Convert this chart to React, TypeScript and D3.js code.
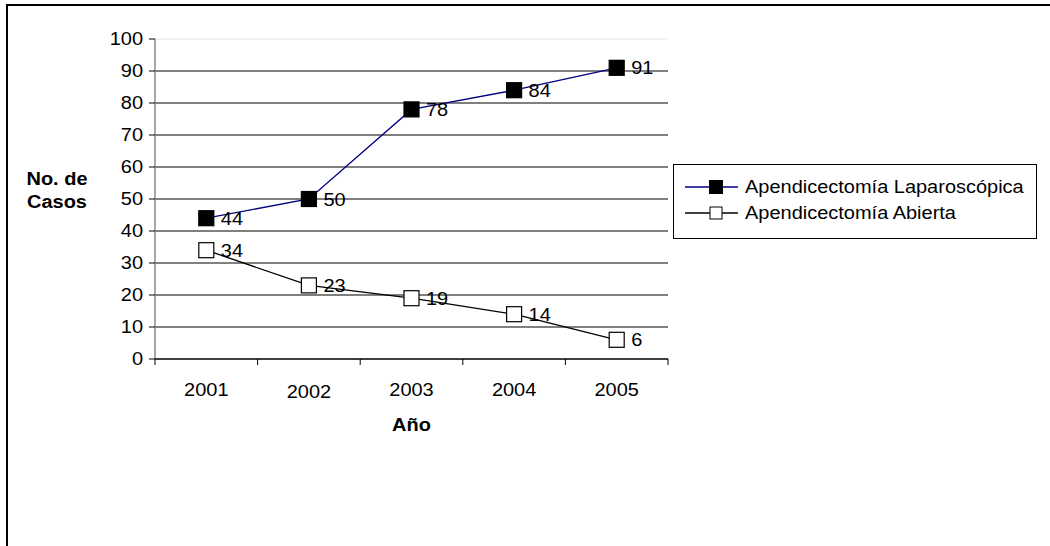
import React from "react";
import * as d3 from "d3";

const years = ["2001", "2002", "2003", "2004", "2005"];
const laparoscopica = [44, 50, 78, 84, 91];
const abierta = [34, 23, 19, 14, 6];
const yTicks = [0, 10, 20, 30, 40, 50, 60, 70, 80, 90, 100];
const seriesNames = ["Apendicectomía Laparoscópica", "Apendicectomía Abierta"];

const FONT = "'Liberation Sans', Arial, sans-serif";
const FS = 18.5;
const SX = 1.08;

function T(props: { x: number; y: number; anchor?: string; bold?: boolean; dy?: string; children: React.ReactNode }) {
  const { x, y, anchor = "start", bold = false, dy, children } = props;
  return (
    <text transform={`translate(${x},${y}) scale(${SX},1)`} textAnchor={anchor as any}
      fontSize={FS} fontWeight={bold ? "bold" : "normal"} dy={dy} fill="#000">{children}</text>
  );
}

export default function App() {
  const W = 1050, H = 546;
  const left = 155, right = 668, top = 39, bottom = 359;
  const x = d3.scaleBand().domain(years).range([left, right]).padding(0);
  const y = d3.scaleLinear().domain([0, 100]).range([bottom, top]);
  const cx = (yr: string) => (x(yr) as number) + x.bandwidth() / 2;
  const line = d3.line<number>().x((_, i) => cx(years[i])).y((d) => y(d));
  const ms = 15;

  const series = [
    { name: seriesNames[0], data: laparoscopica, stroke: "#000080", fill: "#000" },
    { name: seriesNames[1], data: abierta, stroke: "#000", fill: "#fff" },
  ];

  const boundaries = d3.range(years.length + 1).map((i) => left + i * x.bandwidth());

  return (
    <svg width={W} height={H} style={{ position: "absolute", left: 0, top: 0, fontFamily: FONT }}>
      <rect x={0} y={0} width={W} height={H} fill="#fff" />
      <rect x={7} y={5} width={W + 20} height={H + 20} fill="none" stroke="#000" strokeWidth={2} />
      {yTicks.map((t) => (
        <line key={"g" + t} x1={left} x2={right} y1={y(t)} y2={y(t)}
          stroke={t === 100 ? "#e4e4e4" : "#000"} strokeWidth={1} />
      ))}
      <line x1={left} x2={left} y1={top} y2={bottom} stroke="#888" strokeWidth={1.5} />
      {yTicks.map((t) => (
        <g key={"yt" + t}>
          <line x1={left - 6} x2={left} y1={y(t)} y2={y(t)} stroke="#000" />
          <T x={left - 12} y={y(t)} dy="0.35em" anchor="end">{t}</T>
        </g>
      ))}
      <line x1={left} x2={right} y1={bottom} y2={bottom} stroke="#000" strokeWidth={1} />
      {boundaries.map((b, i) => (
        <line key={"xb" + i} x1={b} x2={b} y1={bottom} y2={bottom + 6} stroke="#000" />
      ))}
      {years.map((yr, i) => (
        <T key={"xl" + yr} x={cx(yr)} y={396 + (i === 1 ? 2 : 0)} anchor="middle">{yr}</T>
      ))}
      <T x={cx("2003")} y={431} anchor="middle" bold>Año</T>
      <T x={57} y={185} anchor="middle" bold>No. de</T>
      <T x={57} y={208} anchor="middle" bold>Casos</T>
      {series.map((s) => (
        <g key={s.name}>
          <path d={line(s.data) || ""} fill="none" stroke={s.stroke} strokeWidth={1.3} />
          {s.data.map((v, i) => (
            <g key={i}>
              <rect x={cx(years[i]) - ms / 2} y={y(v) - ms / 2} width={ms} height={ms}
                fill={s.fill} stroke="#000" strokeWidth={1.2} />
              <T x={cx(years[i]) + ms / 2 + 7} y={y(v)} dy="0.36em">{v}</T>
            </g>
          ))}
        </g>
      ))}
      <rect x={673.5} y={164.5} width={363} height={74} fill="#fff" stroke="#000" strokeWidth={1} />
      {series.map((s, i) => {
        const ly = 187 + i * 26;
        const lm = i === 0 ? 13 : 12;
        return (
          <g key={"lg" + i}>
            <line x1={685} x2={738} y1={ly} y2={ly} stroke={s.stroke} strokeWidth={1.3} />
            <rect x={716 - lm / 2} y={ly - lm / 2} width={lm} height={lm} fill={s.fill} stroke="#000" strokeWidth={1} />
            <T x={745} y={ly} dy="0.35em">{s.name}</T>
          </g>
        );
      })}
    </svg>
  );
}
